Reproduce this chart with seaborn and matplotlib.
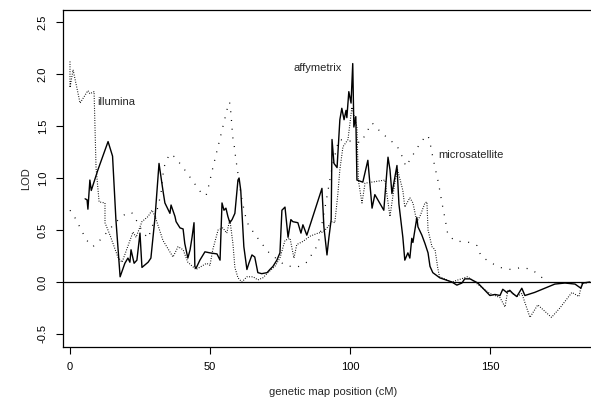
import numpy as np
import pandas as pd
import seaborn as sns
import matplotlib
matplotlib.use("Agg")
import matplotlib.pyplot as plt

# affymetrix (solid)
affy_pos = [5.4, 6.1, 6.4, 7.1, 7.6, 10.0, 13.6, 15.2, 16.4, 17.9, 19.6, 20.7, 21.4, 21.8,
            22.9, 23.9, 25.0, 25.7, 27.9, 28.9, 30.4, 31.8, 33.2, 33.9, 35.7, 36.1, 37.5,
            37.9, 39.3, 40.4, 41.0, 42.1, 42.9, 43.6, 44.3, 44.6, 45.0, 46.4, 48.2, 50.0,
            52.5, 53.6, 54.3, 55.0, 55.7, 56.4, 57.1, 57.9, 58.9, 60.0, 60.4, 61.0, 62.1,
            63.2, 63.9, 65.0, 66.0, 67.1, 68.5, 70.4, 71.4, 72.5, 73.9, 75.0, 75.7, 76.8,
            77.9, 78.9, 79.6, 81.4, 82.5, 83.2, 84.6, 90.0, 90.7, 91.8, 92.5, 93.3, 93.6,
            94.3, 95.4, 96.4, 97.1, 97.9, 98.6, 98.9, 99.6, 100.4, 101.0, 101.4, 102.1,
            102.5, 104.6, 106.4, 107.9, 108.9, 112.1, 113.6, 114.3, 115.0, 116.8, 117.5,
            118.9, 119.6, 120.7, 121.4, 122.1, 122.5, 123.9, 124.3, 125.7, 126.8, 127.9,
            128.6, 129.6, 132.1, 136.4, 138.2, 140.0, 141.0, 142.9, 145.7, 148.2, 150.0,
            151.8, 153.6, 154.6, 156.0, 157.1, 158.2, 159.6, 161.4, 162.5, 166.0, 169.6,
            173.2, 176.8, 180.4, 182.5, 183.2, 185.7]
affy_lod = [0.80, 0.79, 0.70, 0.98, 0.88, 1.08, 1.35, 1.21, 0.60, 0.05, 0.18, 0.23, 0.19, 0.31,
            0.18, 0.21, 0.47, 0.14, 0.19, 0.23, 0.63, 1.14, 0.88, 0.76, 0.66, 0.74, 0.63,
            0.58, 0.52, 0.51, 0.37, 0.23, 0.31, 0.43, 0.57, 0.15, 0.13, 0.21, 0.29, 0.28,
            0.27, 0.21, 0.76, 0.69, 0.71, 0.63, 0.57, 0.60, 0.66, 0.98, 1.00, 0.88, 0.34,
            0.12, 0.18, 0.26, 0.24, 0.09, 0.08, 0.09, 0.12, 0.15, 0.21, 0.28, 0.69, 0.72,
            0.43, 0.60, 0.58, 0.57, 0.47, 0.55, 0.45, 0.90, 0.53, 0.26, 0.43, 0.60, 1.37,
            1.14, 1.10, 1.56, 1.67, 1.56, 1.65, 1.58, 1.83, 1.72, 2.10, 1.49, 1.59,
            0.98, 0.96, 1.17, 0.71, 0.84, 0.69, 1.20, 1.08, 0.85, 1.12, 0.75,
            0.43, 0.21, 0.28, 0.23, 0.42, 0.38, 0.62, 0.53, 0.45, 0.37, 0.28,
            0.15, 0.09, 0.04, 0.00, -0.03, -0.01, 0.03, 0.03, -0.01, -0.08, -0.13,
            -0.12, -0.13, -0.07, -0.10, -0.08, -0.11, -0.14, -0.06, -0.13, -0.10, -0.06,
            -0.02, -0.01, -0.02, -0.06, -0.01, 0.00]

# illumina (fine dotted)
illu_pos = [0.0, 0.0, 1.1, 3.6, 6.4, 7.1, 8.6, 9.3, 10.4, 12.5, 12.5, 14.3, 17.1, 18.6, 22.5,
            23.6, 25.7, 27.9, 29.3, 30.4, 33.2, 36.8, 38.6, 40.4, 42.1, 45.0, 48.8, 50.0,
            51.0, 52.9, 54.6, 56.0, 57.1, 58.2, 58.9, 60.0, 61.4, 63.2, 65.4, 67.1, 68.9,
            70.7, 73.2, 75.0, 76.8, 78.6, 80.0, 81.0, 83.2, 85.7, 88.6, 90.4, 91.8, 93.6,
            94.6, 95.7, 96.4, 97.5, 99.3, 100.7, 102.5, 103.0, 104.3, 105.4, 112.5, 114.3,
            116.0, 117.0, 118.9, 119.6, 121.4, 122.5, 123.9, 125.0, 126.8, 127.5, 127.9,
            129.3, 130.4, 131.4, 132.0, 136.4, 142.0, 144.6, 147.0, 150.0, 153.6, 155.4,
            156.4, 159.6, 161.4, 164.3, 167.1, 172.0, 175.0, 179.3, 181.8, 182.9, 185.0]
illu_lod = [2.12, 1.87, 2.04, 1.72, 1.84, 1.81, 1.83, 1.10, 0.77, 0.76, 0.57, 0.45, 0.24, 0.19, 0.48,
            0.43, 0.58, 0.63, 0.69, 0.63, 0.40, 0.24, 0.34, 0.31, 0.19, 0.12, 0.18, 0.16,
            0.31, 0.50, 0.52, 0.47, 0.60, 0.37, 0.14, 0.04, 0.00, 0.05, 0.05, 0.02, 0.04,
            0.09, 0.15, 0.23, 0.40, 0.42, 0.23, 0.36, 0.39, 0.44, 0.47, 0.48, 0.52, 0.58,
            0.57, 0.85, 1.08, 1.30, 1.37, 1.68, 1.49, 0.98, 0.76, 0.95, 0.98, 0.63,
            0.95, 1.08, 0.88, 0.72, 0.81, 0.76, 0.58, 0.63, 0.76, 0.77, 0.50,
            0.34, 0.31, 0.13, 0.05, 0.00, 0.05, 0.00, -0.05, -0.11, -0.15, -0.24,
            -0.08, -0.14, -0.11, -0.34, -0.22, -0.34, -0.25, -0.10, -0.14, -0.01, -0.01]

# microsatellite (sparse dots)
micro_pos = [0.0, 2.2, 4.0, 6.0, 8.2, 11.0, 16.5, 19.6, 22.0, 24.2, 26.0, 27.9, 30.5, 32.5,
             33.5, 35.5, 37.0, 39.6, 42.0, 44.4, 46.8, 48.6, 49.7, 50.6, 51.5, 52.5, 53.5,
             54.4, 55.4, 56.3, 57.0, 57.5, 58.1, 58.7, 59.2, 59.8, 61.0, 62.5, 63.7, 66.0,
             68.5, 70.8, 73.0, 76.8, 81.0, 84.6, 88.6, 91.0, 93.6, 96.0, 104.0, 105.7, 107.9,
             110.7, 113.6, 116.8, 118.6, 120.0, 122.0, 124.3, 126.4, 127.9, 128.9, 129.6,
             130.4, 131.4, 132.1, 132.8, 133.6, 134.3, 135.0, 137.9, 141.6, 145.4, 146.8,
             150.0, 153.6, 157.5, 161.4, 165.0, 168.2, 171.0]
micro_lod = [0.69, 0.60, 0.50, 0.40, 0.34, 0.41, 0.58, 0.65, 0.67, 0.57, 0.48, 0.42, 0.62, 0.85,
             1.10, 1.23, 1.21, 1.13, 1.04, 0.95, 0.86, 0.83, 0.94, 1.05, 1.15, 1.26, 1.37,
             1.47, 1.58, 1.68, 1.73, 1.62, 1.40, 1.30, 1.19, 1.08, 0.85, 0.65, 0.55, 0.46,
             0.37, 0.29, 0.24, 0.16, 0.14, 0.19, 0.36, 0.70, 1.10, 1.37, 1.34, 1.43, 1.53,
             1.45, 1.38, 1.31, 1.21, 1.11, 1.20, 1.30, 1.38, 1.41, 1.30, 1.20,
             1.10, 0.98, 0.88, 0.77, 0.66, 0.56, 0.45, 0.39, 0.39, 0.35, 0.25,
             0.19, 0.14, 0.12, 0.14, 0.12, 0.05, 0.00]

y_ticks = [-0.5, 0.0, 0.5, 1.0, 1.5, 2.0, 2.5]
x_ticks = [0, 50, 100, 150]

sns.set_style("white")
plt.rcParams['font.family'] = ['Liberation Sans', 'DejaVu Sans']

W, H = 591, 399
fig = plt.figure(figsize=(W / 100, H / 100), dpi=100)
# plot region runs past the right edge, as in the reference
ax = fig.add_axes([63 / W, (H - 347) / H, (603 - 63) / W, (347 - 10) / H])

sns.lineplot(x=affy_pos, y=affy_lod, sort=False, estimator=None, ax=ax,
             color='black', lw=1.0)
sns.lineplot(x=illu_pos, y=illu_lod, sort=False, estimator=None, ax=ax,
             color='black', lw=0.8, linestyle=(0, (0.8, 1.4)))
sns.lineplot(x=micro_pos, y=micro_lod, sort=False, estimator=None, ax=ax,
             color='black', lw=0.9, linestyle=(0, (0.8, 6.2)))

ax.axhline(0, color='black', lw=0.9)

ax.text(9.6, 1.73, 'illumina', fontsize=8, ha='left', va='center')
ax.text(80.0, 2.06, 'affymetrix', fontsize=8, ha='left', va='center')
ax.text(131.4, 1.22, 'microsatellite', fontsize=8, ha='left', va='center')

ax.set_xlim(-2.5, 190.4)
ax.set_ylim(-0.625, 2.615)
ax.set_xticks(x_ticks)
ax.set_yticks(y_ticks)
ax.set_yticklabels([f'{v:.1f}' for v in y_ticks])
ax.tick_params(axis='both', direction='out', length=5, width=0.8, labelsize=8,
               pad=6, bottom=True, left=True, colors='black')
ax.tick_params(axis='y', labelrotation=90)
for lab in ax.get_yticklabels():
    lab.set_va('center')

for side in ['left', 'top', 'bottom', 'right']:
    ax.spines[side].set_color('black')
    ax.spines[side].set_linewidth(0.9)

ax.set_xlabel('genetic map position (cM)', fontsize=8)
ax.set_ylabel('LOD', fontsize=8)
ax.xaxis.set_label_coords(0.5, -0.12)
ax.yaxis.set_label_coords(-0.059, 0.5)

fig.savefig('out.png', dpi=100)
